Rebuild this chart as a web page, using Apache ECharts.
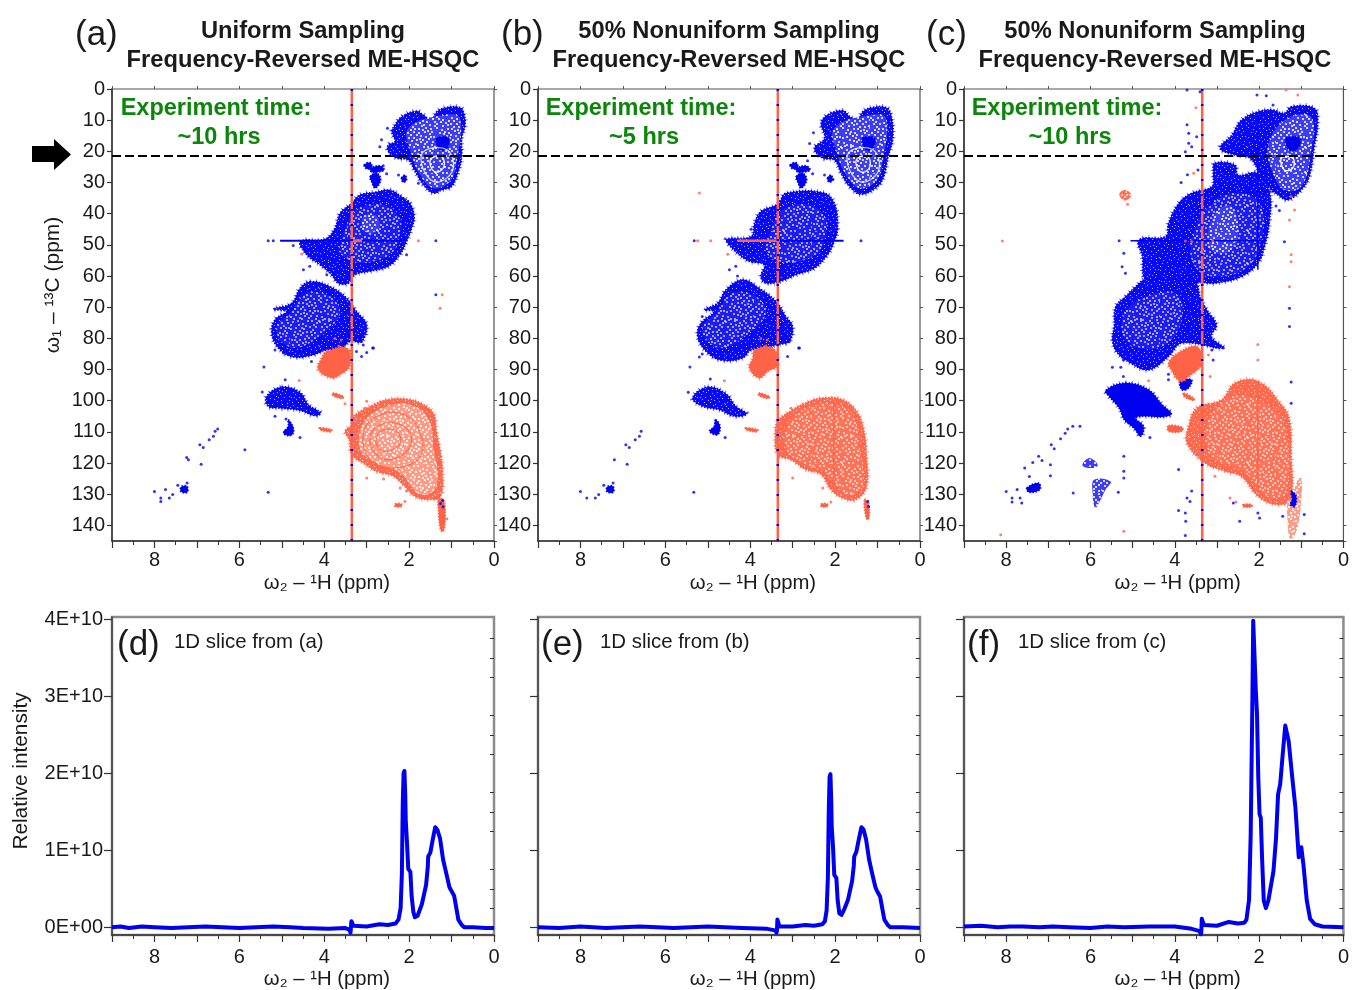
<!DOCTYPE html>
<html>
<head>
<meta charset="utf-8">
<style>html,body{margin:0;padding:0;background:#fff}#c{width:1352px;height:990px}</style>
<script src="https://cdn.jsdelivr.net/npm/echarts@6/dist/echarts.min.js"></script>
</head>
<body>
<div id="c"></div>
<script>
// ---------- 2D spectra outlines, read as [1H ppm, 13C ppm] ----------
const methylA=[[1.47,9.9],[1.35,7.3],[1.15,6],[0.8,5.9],[0.71,7.8],[0.68,11.5],[0.76,15.8],[0.76,21.7],[0.84,26.5],[1,31.3],[1.23,32.4],[1.43,33.4],[1.66,30.8],[1.86,26.5],[2.02,22.8],[2.29,22.2],[2.49,20.1],[2.49,17.9],[2.33,16.9],[2.41,13.7],[2.33,11.5],[2.18,8.9],[1.82,7.05],[1.67,8.3]];
const methylInnerA=[[2.02,12.6],[1.15,8.3],[0.8,9.4],[0.88,23.3],[1.04,29.7],[1.43,31.8],[1.74,27.6],[1.94,21.2]];
const methylSpotA=[[1.35,15.8],[1.07,15.8],[1.11,19],[1.27,19.5]];
const methylRing1A=[[1.47,22.2],[1.23,21.7],[1.18,24.9],[1.35,26.7],[1.49,24.9]];
const methylRing2A=[[1.66,20.1],[1.11,19.5],[0.97,25.9],[1.35,29.9],[1.66,25.9]];
const chA=[[3.35,36.6],[3.16,34],[2.8,33.1],[2.45,32.4],[2.18,34.5],[1.98,36.6],[1.88,40.9],[1.94,44.7],[2.06,48.9],[2.22,53.2],[2.49,56.9],[2.92,58.5],[3.28,59.6],[3.43,62.3],[3.67,62.3],[3.83,59.6],[4.1,56.4],[4.41,53.2],[4.56,48.9],[3.98,48.1],[3.75,44.7],[3.63,39.9]];
const chInnerA=[[3.16,38.2],[2.61,37.2],[2.22,41.4],[2.22,46.8],[2.37,52.1],[2.84,55.3],[3.31,55.3],[3.63,52.1],[3.55,46.8],[3.39,41.4]];
const chCoreA=[[3.08,40.9],[2.8,40.4],[2.69,43.6],[2.84,46.3],[3.08,45.2]];
const sugarA=[[4.34,61.8],[3.86,63.4],[3.47,67.1],[3.24,71.4],[3,75.6],[3.12,81],[3.39,81],[3.63,83.7],[3.94,83.7],[4.26,85.3],[4.73,86],[5.08,83.1],[5.24,78.3],[5.16,74],[4.89,71.4],[5.2,70.6],[4.77,68.7],[4.57,63.9]];
const sugarInnerA=[[4.41,65.5],[3.86,66.6],[3.63,71.9],[4.02,78.3],[4.65,83.1],[5.04,80.4],[5.12,76.2],[4.81,71.9]];
const anomericA=[[5,95.6],[4.57,97.3],[4.37,101.3],[4.08,103.9],[4.22,104.8],[4.57,103.1],[5.04,102.4],[5.32,101.8],[5.36,98.6]];
const smallBlueA=[[4.85,106.1],[4.74,108.2],[4.73,110.4],[4.82,111.2],[4.96,110.4],[4.85,108.2]];
const arom1=[[7.36,127.5],[7.23,127.5],[7.23,129.4],[7.38,129.1]];
const isle1=[[3.06,24.4],[2.92,23.6],[2.88,25.2],[3,25.6]];
const isle2=[[2.92,25.6],[2.69,24.6],[2.59,26],[2.76,26.7],[2.88,26.7]];
const isle3=[[2.92,28.1],[2.76,27],[2.67,29.2],[2.8,31.8],[2.88,29.9]];
const isle4=[[2.18,28.6],[2.1,27.6],[2.06,29.2],[2.14,29.9]];
const orangeBigA=[[3.31,105],[3,102.4],[2.53,99.7],[2.06,99.5],[1.74,100.7],[1.43,104],[1.35,110.4],[1.27,115.7],[1.21,123.2],[1.26,130.7],[1.51,131.7],[1.86,130.7],[2.1,127.5],[2.37,124.2],[2.76,122.7],[3.08,120],[3.35,117.3],[3.41,112.5],[3.51,109.8],[3.35,107.7]];
const orangeInnerA=[[3.08,107.2],[2.53,101.8],[1.98,101.3],[1.55,105.6],[1.43,114.6],[1.35,127.5],[1.74,130.1],[2.21,123.2],[2.76,120],[3.15,115.7]];
const orangeRing1=[[2.92,111.4],[2.68,107.7],[2.29,107.2],[1.98,110.4],[2.02,115.7],[2.45,118.9],[2.8,116.8]];
const orangeRing2=[[3.08,110.4],[2.76,105],[2.21,104],[1.78,108.8],[1.74,117.9],[2.37,121.6],[2.92,118.9]];
const orangeRing3=[[2.76,111.4],[2.57,109.3],[2.29,109.8],[2.21,113.6],[2.49,116.2],[2.72,115.2]];
const orangeTailA=[[1.31,131.7],[1.19,131.7],[1.15,137],[1.19,141.9],[1.26,141.4],[1.31,134.9]];
const orangeSmallA=[[3.94,84.2],[3.47,83.1],[3.39,88.5],[3.63,91.7],[3.82,92.7],[4.14,90],[4.06,86.3]];
const streakUp=[[3.8,97.5],[3.55,98.6],[3.57,99.3],[3.79,98.4]];
const streakLow=[[4.11,108.7],[3.82,109.3],[3.86,110],[4.1,109.3]];
const streakRight=[[2.33,133.1],[2.18,133.1],[2.18,133.9],[2.33,133.9]];

const methylB=[[1.47,9.9],[1.35,7.3],[1.15,6],[0.8,5.9],[0.68,8.3],[0.64,15.8],[0.76,22.2],[0.84,27.6],[1,31.3],[1.39,33.8],[1.66,31.3],[1.86,27],[2.02,22.8],[2.29,22.2],[2.49,19],[2.25,15.8],[2.33,11],[2.18,8.3],[1.82,6.9],[1.65,8.9]];
const chB=[[3.31,36.1],[3.16,33.4],[2.29,33.2],[2.02,36.6],[1.94,44.7],[2.02,48.9],[2.18,53.2],[2.49,57.5],[2.92,59.6],[3.28,61.7],[3.63,62.3],[3.75,60.2],[3.67,56.4],[4.02,55.3],[4.26,53.2],[4.53,49.5],[4.56,48.1],[3.98,47.3],[3.9,43],[3.75,39.3],[3.39,37.2]];
const sugarB=[[4.18,61.2],[3.79,63.9],[3.39,68.2],[3.16,73],[3,76.2],[3.08,81],[3.35,82],[3.63,83.1],[3.98,83.7],[4.18,86.3],[4.65,87.1],[5,84.7],[5.24,79.4],[5.16,75.1],[4.85,71.4],[5.08,70.8],[4.77,68.7],[4.57,64.4]];
const anomericB=[[5,95.6],[4.57,97.8],[4.34,101.8],[4.08,104.2],[4.37,105],[4.73,102.9],[5.12,101.8],[5.36,99.1]];
const smallBlueB=[[4.82,106.1],[4.71,108.2],[4.77,110.9],[4.96,109.8],[4.85,108.2]];
const orangeBigB=[[3.35,106.6],[3,102.9],[2.6,100.2],[2.29,99.1],[1.82,99.7],[1.47,103.9],[1.31,110.4],[1.26,117.8],[1.26,127.5],[1.51,131.7],[1.82,131.2],[2.1,128.5],[2.33,123.7],[2.69,122.1],[3.04,118.9],[3.35,117.3],[3.41,110.4]];
const orangeTailB=[[1.31,131.7],[1.21,132.8],[1.21,138.1],[1.27,137.6]];
const orangeSmallB=[[3.9,83.7],[3.47,83.1],[3.35,88.5],[3.59,90.6],[3.79,92.7],[4.02,89.5],[3.94,86.3]];

const methylC=[[1.4,7.8],[1.24,5.7],[0.69,6.2],[0.61,11],[0.69,18.5],[0.81,28.1],[1,32.4],[1.32,35.6],[1.55,34],[1.79,31.3],[1.99,27],[2.22,22.2],[2.57,21.2],[2.93,19],[2.65,14.8],[2.42,10],[2.03,7.3],[1.67,6.7]];
const methylInnerC=[[1.4,10],[0.77,8.9],[0.77,20.6],[1,31.3],[1.4,32.4],[1.67,27],[1.79,18.5]];
const methylSpotC=[[1.36,15.8],[1.04,15.8],[1.08,19],[1.28,19.6]];
const methylRingC=[[1.47,22.2],[1.2,22.2],[1.2,25.4],[1.4,26]];
const chC=[[3.05,23.8],[2.57,24.4],[2.5,27.6],[2.03,27],[1.75,33.4],[1.75,42],[1.87,50.5],[2.03,55.9],[2.42,60.2],[3.05,62.3],[3.48,62.3],[3.56,64.4],[3.83,63.4],[4.22,62.3],[4.7,61.2],[4.77,53.7],[4.85,48.4],[4.22,47.3],[4.15,43],[3.91,36.7],[3.6,33.4],[3.12,31.3],[3.09,27]];
const chInnerC=[[3.12,36.7],[2.42,33.4],[1.95,37.7],[1.95,48.4],[2.26,57],[3.05,60.2],[3.52,57],[3.6,48.4]];
const chCoreC=[[3.05,39.9],[2.65,37.7],[2.5,47.3],[2.81,52.7],[3.2,50.5]];
const sugarC=[[4.7,61.2],[3.52,62.3],[3.4,66.6],[3.24,70.8],[3.01,75.7],[3.13,79.4],[2.85,83.1],[3.83,81.5],[4.15,85.8],[4.62,90.1],[5.05,87.9],[5.36,84.7],[5.48,80.5],[5.44,76.2],[5.4,69.8],[5.17,66.6],[4.93,63.4]];
const sugarInnerC=[[4.85,67.6],[3.99,65.5],[3.83,74],[4.3,82.6],[5.09,81.5],[5.25,74]];
const anomericC=[[5.17,94.3],[4.62,96.5],[4.3,101.3],[4.08,104.2],[4.3,105.2],[4.7,105],[4.93,105.6],[4.74,108.2],[4.81,111.4],[4.97,108.8],[5.2,106.1],[5.32,102.4],[5.56,98.6],[5.64,96.7]];
const underOrangeC=[[3.87,93.8],[3.6,93.3],[3.68,96],[3.83,96.5]];
const aromC=[[7.51,128],[7.23,126.4],[7.2,128.5],[7.45,129.4]];
const diffuse1C=[[6.19,120.8],[6.03,118.4],[5.83,120.5],[5.95,121.6]];
const diffuse2C=[[5.91,125.3],[5.52,125.9],[5.64,128.5],[5.8,132.8],[5.89,134.4],[5.95,129.6]];
const tailBlueC=[[1.24,129],[1.12,130.7],[1.16,133.9],[1.26,133.3],[1.22,131.7]];
const orangeBigC=[[3.48,102.4],[2.89,99.7],[2.57,94.3],[2.02,93.8],[1.47,101.3],[1.28,106.1],[1.24,116.8],[1.26,131.7],[1.59,133.3],[2.02,130.7],[2.42,124.3],[2.81,122.6],[3.28,120],[3.71,113.6],[3.67,108.2]];
const orangeInnerC=[[3.2,106.1],[2.57,98.6],[1.87,100.8],[1.4,108.2],[1.36,129.6],[1.79,130.7],[2.42,122.1],[3.13,117.9]];
const orangeTailC=[[1.32,131.7],[1.24,131.7],[1.08,125.3],[0.99,124.8],[1,131.7],[1.08,140.3],[1.2,144],[1.28,144],[1.33,137.1]];
const orangeSmallC=[[3.99,85.3],[3.48,82.6],[3.36,88],[3.67,92.2],[3.87,93.8],[4.11,89.5],[4.15,88]];
const streakLowC=[[4.15,108],[3.83,108.5],[3.83,109.8],[4.15,109.8]];
const streakUpC=[[3.79,97.5],[3.55,99.2],[3.55,100],[3.79,98.5]];
const streakRightC=[[2.38,133.3],[2.18,133.3],[2.18,134],[2.38,134]];
const orangeIsleC=[[5.31,33.4],[5.17,32.4],[5.03,34],[5.17,35.8],[5.28,35]];

// ---------- isolated cross peaks ----------
const bluePointsA=[[8,129.1],[7.74,128.5],[7.85,131.2],[7.85,132.3],[7.65,131.2],[7.57,130.1],[7.45,127.1],[7.23,126.4],[6.93,114.1],[6.85,115],[6.9,120.4],[7.2,118.9],[7.24,118.2],[6.71,112.5],[6.61,111.4],[6.57,109.8],[6.51,109.1],[5.87,115.7],[5.32,129.4],[5.42,89.2],[4.92,93.3],[5.46,97.2],[4.57,111.8],[2.84,83.1],[3,84.5],[3.12,81],[3.12,85.8],[3.24,84.2],[3.08,82.1],[5.16,105],[4.9,105.9],[4.92,109.8],[5.16,83.7],[4.96,84.7],[4.3,87.4],[2.86,83.1],[2.51,12.6],[2.65,16.3],[2.69,18.5],[2.61,24.6],[2.53,27.2],[2.25,27.6],[1.78,30.2],[5.32,48.7],[5.2,48.7],[4.73,50.2],[4.34,56.9],[4.49,58],[3.94,59.6],[2.06,53.2],[1.37,48.7],[1.37,66],[1.26,133],[1.21,132],[1.2,134]];
const orangePointsA=[[4.59,93.5],[2.21,128],[2.06,129],[2.25,133.5],[2.1,132.3],[3,124.8],[2.6,125.1],[3,100.2],[3.04,102.4],[3.51,101],[1.11,137.9],[1.27,70.3],[1.22,66],[1.78,48.7],[4.53,52.9],[3.75,80],[3.6,80.5],[3.65,82.5],[3.4,84]];
const bluePointsB=[[8,129.1],[7.85,131.2],[7.65,131.2],[7.57,130.1],[7.45,127.1],[7.23,126.4],[6.93,114.1],[6.85,115],[6.9,120.4],[7.2,118.9],[6.71,112.5],[6.61,111.4],[6.57,109.8],[5.33,129.4],[5.42,89.2],[4.94,93],[5.46,97.3],[4.59,111.8],[5.32,48.7],[1.39,48.7],[1.23,132.3],[1.21,133.9],[2.84,83.1],[3.08,81],[3.12,85.8],[2.86,83.1],[5.13,73],[5.13,85],[2.51,14],[2.6,17.5],[2.65,23],[2.53,27.2],[2.25,27.6],[2.05,29],[3.66,42],[3.98,45],[4.34,56.9],[4.49,58],[4.3,60],[5.2,80.5],[5.2,86]];
const orangePointsB=[[4.61,93.6],[3,124.8],[2.29,128],[2.1,132.5],[3.04,102.4],[5.24,48.7],[4.93,48.7],[4.53,53],[5.2,33.4],[3.75,80],[3.6,80.5],[3.65,82.5]];
const bluePointsC=[[8,129.1],[7.86,131.2],[7.86,132.5],[7.74,128.5],[7.67,131.2],[7.63,132.8],[7.56,121.6],[7.45,124.3],[7.37,119.8],[7.23,117.8],[7.15,119.2],[6.95,120.5],[6.95,124.1],[6.93,114.1],[6.86,115.4],[6.71,112.2],[6.6,110.4],[6.54,109.1],[6.42,108.2],[6.25,108.2],[6.41,129.6],[5.34,129.4],[5.21,117.8],[5.21,122.6],[5.21,124.8],[3.91,122.1],[3.6,129],[3.71,131.2],[3.64,132.3],[3.91,135.2],[3.75,136],[3.74,138.7],[3.75,143.2],[2.61,132.8],[2.46,138.7],[2.03,136],[1.99,137.6],[1.44,137.1],[0.93,136.5],[0.93,142.7],[1.24,94],[1.24,100.8],[4.59,111.8],[4.15,93.3],[4.15,91.5],[5.48,89.3],[5.28,89.3],[5.22,86.9],[5.22,92.2],[3.12,83.7],[2.97,82],[2.85,83.1],[3.09,86.9],[3.71,11.5],[3.67,14.2],[3.67,17.4],[3.75,20.1],[3.6,18.5],[3.48,15.3],[3.71,0.3],[3.4,0.9],[1.83,2.2],[2.05,1.9],[1.67,5.1],[5.32,48.7],[5.21,52.7],[5.25,57],[5.17,59.1],[1.4,49],[1.28,70.3],[1.28,76.2],[3.85,30],[3.7,27.5],[3.45,26],[1.6,37.5],[1.52,39]];
const orangePointsC=[[8.13,143],[5.21,141.9],[3.05,124.2],[2.69,131.2],[2.55,132.5],[4.62,93.6],[3.16,92.2],[2.03,86.9],[2.03,82],[3.2,85.3],[1.24,34.5],[1.16,38.8],[1.28,42],[1.24,53.2],[1.24,55.4],[1.28,63.4],[1.36,0.3],[1.08,1.9],[8.09,48.8],[3.5,6],[3.55,27],[3.75,48.8],[3.6,48.9],[3.1,48.8],[5.2,33],[5.12,37]];

// ---------- line features in the 2D spectra ----------
const waterRidge=[[3.35,0],[3.35,145]];
const sliceLine=[[9,21.5],[0,21.5]];
const hStreakBlueA=[[5.04,48.7],[2.1,48.7]];
const hStreakOrangeA=[[3.35,48.7],[3.11,48.7]];
const hStreakBlueB=[[3.3,48.7],[1.8,48.7]];
const hStreakOrangeB=[[4.3,48.7],[3.3,48.7]];
const hStreakBlueC=[[5.05,48.7],[1.9,48.7]];
const vStreakBlueC=[[2.03,8],[2.03,58]];
const vStreakOrangeC=[[2.03,94],[2.03,128]];
const vStreakOrangeB=[[2.03,100],[2.03,128]];
const hStreakCH3C=[[1.65,33],[2.4,33]];

// ---------- 1D slices: [1H ppm, intensity in units of 1E+10] ----------
const sliceD=[[9,0],[8.8,0.01],[8.6,-0.01],[8.3,0.01],[8,0],[7.6,-0.01],[7.2,0],[6.8,0.01],[6.4,0],[6,-0.01],[5.6,0],[5.2,0.01],[4.8,0],[4.5,-0.01],[3.9,-0.02],[3.5,-0.01],[3.41,-0.03],[3.38,-0.07],[3.37,-0.05],[3.36,0.08],[3.34,0.07],[3.31,0.02],[3,0.01],[2.7,0.04],[2.5,0.03],[2.32,0.05],[2.25,0.1],[2.2,0.25],[2.17,0.7],[2.15,1.6],[2.13,2.0],[2.11,2.03],[2.09,1.7],[2.08,1.4],[2.05,1.1],[2.02,0.76],[1.97,0.72],[1.94,0.4],[1.9,0.2],[1.865,0.13],[1.8,0.15],[1.7,0.3],[1.6,0.55],[1.56,0.78],[1.55,0.92],[1.5,0.97],[1.45,1.12],[1.385,1.3],[1.33,1.26],[1.27,1.15],[1.2,0.88],[1.12,0.69],[1.05,0.52],[1.02,0.5],[0.98,0.45],[0.94,0.41],[0.89,0.26],[0.84,0.1],[0.76,0.03],[0.7,0],[0.5,0],[0.2,-0.01],[0,-0.01]];
const sliceE=[[9,0],[8.5,-0.01],[8,0.01],[7.7,0],[7.4,-0.01],[7,0],[6.6,0.01],[6.2,0],[5.8,-0.01],[5.4,0],[5,0.01],[4.6,0],[4.2,-0.01],[3.6,-0.02],[3.41,-0.04],[3.38,-0.07],[3.37,-0.04],[3.36,0.1],[3.34,0.1],[3.31,0.01],[3,0.01],[2.7,0.03],[2.5,0.02],[2.3,0.04],[2.24,0.08],[2.2,0.22],[2.17,0.65],[2.15,1.5],[2.13,1.95],[2.11,1.99],[2.09,1.62],[2.08,1.3],[2.05,1.05],[2.02,0.68],[1.97,0.64],[1.94,0.35],[1.9,0.18],[1.85,0.16],[1.78,0.24],[1.7,0.35],[1.6,0.6],[1.56,0.8],[1.55,0.92],[1.5,0.98],[1.45,1.12],[1.38,1.3],[1.33,1.27],[1.27,1.14],[1.2,0.88],[1.12,0.68],[1.05,0.52],[1.02,0.48],[0.98,0.44],[0.94,0.4],[0.89,0.25],[0.84,0.1],[0.76,0.03],[0.7,0],[0.4,0],[0,-0.01]];
const sliceF=[[9,0.01],[8.6,0.02],[8.2,0],[7.9,0.01],[7.6,0.01],[7.2,0],[6.9,0.01],[6.5,0],[6,-0.01],[5.6,0.01],[5.2,0],[4.6,0.01],[4,0.01],[3.6,-0.02],[3.41,-0.05],[3.38,-0.09],[3.37,-0.05],[3.36,0.11],[3.33,0.1],[3.31,0.03],[3,0.02],[2.72,0.07],[2.5,0.05],[2.35,0.06],[2.3,0.1],[2.24,0.35],[2.2,1.2],[2.16,2.94],[2.14,3.98],[2.11,3.98],[2.08,3.1],[2.05,2.77],[2.02,1.95],[1.99,1.47],[1.96,1.42],[1.93,0.9],[1.89,0.35],[1.84,0.25],[1.78,0.35],[1.66,0.73],[1.6,1.15],[1.55,1.73],[1.5,1.86],[1.44,2.25],[1.38,2.62],[1.3,2.42],[1.22,1.98],[1.14,1.56],[1.06,0.91],[1,1.04],[0.95,0.82],[0.87,0.35],[0.79,0.11],[0.68,0.04],[0.5,0.01],[0,0]];

// ---------- axes ----------
const xTicks=[0,1,2,3,4,5,6,7,8,9];
const yTicks2D=[0,10,20,30,40,50,60,70,80,90,100,110,120,130,140];
const yMajor1D=[0,1,2,3,4];
const yMinor1D=[0.25,0.5,0.75,1.25,1.5,1.75,2.25,2.5,2.75,3.25,3.5,3.75];
const xName='ω₂ – ¹H (ppm)';

const FONT='"Liberation Sans", Arial, sans-serif';
const BLUE='#0000f0', ORANGE='#ff6347', TXT='#1a1a1a';

// pattern tiles that imitate the contour speckle of the peaks
const specksA=[[2,3],[11,1],[20,5],[26,2],[6,10],[15,9],[24,12],[1,16],[10,18],[18,15],[27,20],[5,24],[14,25],[22,22],[9,27]];
const specksB=[[7,1],[16,4],[23,8],[3,7],[12,12],[19,11],[28,9],[7,15],[14,19],[23,17],[2,21],[10,23],[18,27],[26,25],[4,13],[21,1],[13,6],[25,15]];
const specksC=[[0,1],[5,5],[9,7],[17,8],[21,14],[28,5],[8,12],[16,13],[12,16],[4,18],[19,20],[24,20],[7,21],[13,22],[0,26],[16,23],[20,25],[3,28],[25,28],[11,28]];
function tile(fg,lists,size,alpha){
  const c=document.createElement('canvas');c.width=58;c.height=58;
  const x=c.getContext('2d');x.fillStyle=fg;x.fillRect(0,0,58,58);
  x.fillStyle='rgba(255,255,255,'+alpha+')';
  lists.forEach(l=>l.forEach(p=>{
    x.fillRect(p[0],p[1],size,size);
    x.fillRect(29+p[1],p[0],size,size);
    x.fillRect(28-p[0],29+p[1],size,size);
    x.fillRect(29+p[0],57-p[1],size,size);
  }));
  return {image:c,repeat:'repeat'};
}
const T={
  bDense:tile('#0a0af2',[specksA,specksB,specksC],1,0.7),
  bMid:tile('#1c1cf3',[specksA,specksB,specksC],2,0.6),
  bLight:tile('#3d3df5',[specksA,specksB,specksC],2,0.8),
  oDense:tile('#ff6a4f',[specksA,specksB,specksC],1,0.75),
  oMid:tile('#ff7459',[specksA,specksB,specksC],2,0.6),
  oLight:tile('#ff9a84',[specksA,specksB,specksC],2,0.85)
};

const grids=[],xAxes=[],yAxes=[],series=[];
function addGrid(left,top,w,h,border){
  grids.push({left:left,top:top,width:w,height:h,show:true,backgroundColor:'transparent',borderColor:border.c,borderWidth:border.w});
  return grids.length-1;
}
const tickLabel={color:TXT,fontSize:20,fontFamily:FONT};
function xAxisOf(g,margin,gap){
  xAxes.push({gridIndex:g,type:'value',min:0,max:9,interval:1,inverse:true,position:'bottom',
    axisLine:{show:true,onZero:false,lineStyle:{color:'#333',width:1.5}},
    axisTick:{show:true,length:7,lineStyle:{color:'#333',width:1.2}},
    minorTick:{show:true,splitNumber:2,length:4,lineStyle:{color:'#333',width:1}},
    splitLine:{show:false},minorSplitLine:{show:false},
    axisLabel:Object.assign({},tickLabel,{margin:margin,showMinLabel:true,showMaxLabel:true,hideOverlap:false,
      formatter:v=>(v%2===0?String(v):'')}),
    name:xName,nameLocation:'middle',nameGap:gap,
    nameTextStyle:{color:TXT,fontSize:20.3,fontFamily:FONT,padding:[0,0,0,48]}});
  return xAxes.length-1;
}
function mirrorX(g){
  xAxes.push({gridIndex:g,type:'value',min:0,max:9,interval:1,inverse:true,position:'top',
    axisLine:{show:false},axisTick:{show:true,length:3,lineStyle:{color:'#555',width:1}},
    axisLabel:{show:false},splitLine:{show:false}});
}
function panel2D(left,labels){
  const g=addGrid(left,89,382,452,{c:'#555',w:1.2});
  const xi=xAxisOf(g,9,32);mirrorX(g);
  yAxes.push({gridIndex:g,type:'value',min:0,max:145,interval:10,inverse:true,position:'left',
    axisLine:{show:true,onZero:false,lineStyle:{color:'#333',width:1.5}},
    axisTick:{show:true,length:5,lineStyle:{color:'#333',width:1.2}},
    splitLine:{show:false},
    axisLabel:Object.assign({},tickLabel,{margin:7,showMaxLabel:false,padding:[2,0,0,0],
      formatter:v=>(yTicks2D.includes(v)?String(v):'')}),
    name:labels?'ω₁ – ¹³C (ppm)':'',nameLocation:'middle',nameGap:48,
    nameTextStyle:{color:TXT,fontSize:21,fontFamily:FONT,padding:[0,0,0,60]}});
  const yi=yAxes.length-1;
  yAxes.push({gridIndex:g,type:'value',min:0,max:145,interval:10,inverse:true,position:'right',
    axisLine:{show:false},axisTick:{show:true,length:3,lineStyle:{color:'#555',width:1}},
    axisLabel:{show:false},splitLine:{show:false}});
  return {xi:xi,yi:yi};
}
function panel1D(left,labels,data){
  const g=addGrid(left,617,382,318,{c:'#8c8c8c',w:2.5});
  const xi=xAxisOf(g,12,34);
  yAxes.push({gridIndex:g,type:'value',min:-0.1,max:4.03,position:'left',
    axisLine:{show:true,onZero:false,lineStyle:{color:'#444',width:1.5}},
    axisTick:{show:true,length:8,customValues:yMajor1D,lineStyle:{color:'#333',width:1.2}},
    splitLine:{show:false},
    axisLabel:labels?Object.assign({},tickLabel,{margin:9,customValues:yMajor1D,padding:[1,0,0,0],
      formatter:v=>v+'E+'+(v===0?'00':'10')}):{show:false},
    name:labels?'Relative intensity':'',nameLocation:'middle',nameGap:80,
    nameTextStyle:{color:TXT,fontSize:20.8,fontFamily:FONT,padding:[0,0,0,10]}});
  const yi=yAxes.length-1;
  yAxes.push({gridIndex:g,type:'value',min:-0.1,max:4.03,position:'left',
    axisLine:{show:false},
    axisTick:{show:true,length:4,customValues:yMinor1D,lineStyle:{color:'#333',width:1}},
    axisLabel:{show:false},splitLine:{show:false}});
  series.push({type:'line',xAxisIndex:xi,yAxisIndex:yi,data:data,showSymbol:false,smooth:false,
    lineStyle:{color:BLUE,width:4,join:'round'},silent:true,clip:true});
}

// rim: 0 none, 1 small fuzzy edge, 2 wide fuzzy edge
function poly(ax,points,fill,opts){
  opts=opts||{};
  const edge=opts.edge||BLUE, rim=opts.rim||0, smooth=opts.smooth===undefined?0.4:opts.smooth;
  series.push({type:'custom',xAxisIndex:ax.xi,yAxisIndex:ax.yi,silent:true,clip:true,
    coordinateSystem:'cartesian2d',data:[points[0]],encode:{x:0,y:1},
    renderItem:(params,api)=>{
      const pts=points.map(p=>api.coord(p));
      const kids=[];
      if(rim>=2)kids.push({type:'polygon',shape:{points:pts,smooth:smooth},
        style:{fill:'none',stroke:edge,lineWidth:5,lineDash:[1,5],opacity:0.55}});
      const st={fill:fill||'none'};
      if(rim>=1)Object.assign(st,{stroke:edge,lineWidth:1.6,lineDash:[1.5,1.5]});
      if(opts.line)Object.assign(st,{stroke:opts.line.c,lineWidth:opts.line.w,opacity:opts.line.o||1});
      kids.push({type:'polygon',shape:{points:pts,smooth:smooth},style:st});
      return {type:'group',children:kids};
    }});
}
function line(ax,data,color,width,dash,z){
  series.push({type:'line',xAxisIndex:ax.xi,yAxisIndex:ax.yi,data:data,showSymbol:false,silent:true,z:z||3,
    lineStyle:{color:color,width:width,type:dash||'solid',cap:'butt'}});
}
function dots(ax,data,color,size){
  series.push({type:'scatter',xAxisIndex:ax.xi,yAxisIndex:ax.yi,data:data,symbolSize:size,silent:true,z:4,
    itemStyle:{color:color}});
}
const blueRim={rim:2}, orangeRim={rim:2,edge:ORANGE};
const blueSmall={rim:1}, orangeSmall={rim:1,edge:ORANGE};

// panel (a)
const A=panel2D(112,true);
poly(A,methylA,T.bDense,blueRim);poly(A,methylInnerA,T.bLight);poly(A,methylSpotA,BLUE,blueSmall);
poly(A,methylRing2A,null,{line:{c:'#fff',w:1.2,o:0.8}});poly(A,methylRing1A,null,{line:{c:'#fff',w:1.4,o:0.9}});
poly(A,chA,T.bDense,blueRim);poly(A,chInnerA,T.bMid);poly(A,chCoreA,T.bLight);
poly(A,sugarA,T.bDense,blueRim);poly(A,sugarInnerA,T.bMid);
poly(A,anomericA,T.bDense,blueRim);
[smallBlueA,arom1,isle1,isle2,isle3,isle4].forEach(p=>poly(A,p,BLUE,blueSmall));
poly(A,orangeBigA,T.oDense,orangeRim);poly(A,orangeInnerA,T.oLight);
[orangeRing1,orangeRing2,orangeRing3].forEach(p=>poly(A,p,null,{line:{c:ORANGE,w:1.1,o:0.85}}));
poly(A,orangeSmallA,ORANGE,orangeRim);
[orangeTailA,streakUp,streakLow,streakRight].forEach(p=>poly(A,p,ORANGE,orangeSmall));
line(A,hStreakBlueA,BLUE,2);line(A,hStreakOrangeA,ORANGE,3);
line(A,waterRidge,ORANGE,2.5);line(A,waterRidge,BLUE,2.5,[2,13]);
dots(A,bluePointsA,BLUE,3);dots(A,orangePointsA,ORANGE,3);
line(A,sliceLine,'#000',2,[9,4],6);

// panel (b)
const B=panel2D(538,false);
poly(B,methylB,T.bDense,blueRim);poly(B,methylInnerA,T.bLight);poly(B,methylSpotA,BLUE,blueSmall);
poly(B,methylRing2A,null,{line:{c:'#fff',w:1.2,o:0.8}});poly(B,methylRing1A,null,{line:{c:'#fff',w:1.4,o:0.9}});
poly(B,chB,T.bDense,blueRim);poly(B,chInnerA,T.bMid);
poly(B,sugarB,T.bDense,blueRim);poly(B,sugarInnerA,T.bMid);
poly(B,anomericB,T.bDense,blueRim);
[smallBlueB,arom1,isle1,isle2,isle3,isle4].forEach(p=>poly(B,p,BLUE,blueSmall));
poly(B,orangeBigB,T.oDense,orangeRim);poly(B,orangeInnerA,T.oMid);
poly(B,orangeSmallB,ORANGE,orangeRim);
[orangeTailB,streakUp,streakLow,streakRight].forEach(p=>poly(B,p,ORANGE,orangeSmall));
line(B,vStreakOrangeB,ORANGE,1.5);
line(B,hStreakBlueB,BLUE,2);line(B,hStreakOrangeB,ORANGE,2.5);
line(B,waterRidge,ORANGE,2.5);line(B,waterRidge,BLUE,2.5,[2,13]);
dots(B,bluePointsB,BLUE,3);dots(B,orangePointsB,ORANGE,3);
line(B,sliceLine,'#000',2,[9,4],6);

// panel (c)
const C=panel2D(964,false);
poly(C,methylC,T.bDense,blueRim);poly(C,methylInnerC,T.bLight);poly(C,methylSpotC,BLUE,blueSmall);
poly(C,methylRingC,null,{line:{c:'#fff',w:1.4,o:0.9}});
poly(C,chC,T.bDense,blueRim);poly(C,chInnerC,T.bMid);poly(C,chCoreC,T.bLight);
poly(C,sugarC,T.bDense,blueRim);poly(C,sugarInnerC,T.bMid);
poly(C,anomericC,BLUE,blueRim);
[underOrangeC,aromC].forEach(p=>poly(C,p,BLUE,blueSmall));
poly(C,diffuse1C,T.bLight);poly(C,diffuse2C,T.bLight);
poly(C,orangeBigC,T.oDense,orangeRim);poly(C,orangeInnerC,T.oMid);poly(C,orangeTailC,T.oLight);
poly(C,orangeSmallC,ORANGE,orangeRim);
[streakLowC,streakUpC,streakRightC].forEach(p=>poly(C,p,ORANGE,orangeSmall));
poly(C,orangeIsleC,T.oMid);
poly(C,tailBlueC,BLUE,blueSmall);
line(C,vStreakBlueC,BLUE,1.5);line(C,vStreakOrangeC,ORANGE,1.5);
line(C,hStreakBlueC,BLUE,1.5);line(C,hStreakCH3C,BLUE,1.2);
line(C,waterRidge,ORANGE,2.5);line(C,waterRidge,BLUE,2.5,[2,13]);
dots(C,bluePointsC,BLUE,3);dots(C,orangePointsC,ORANGE,3);
line(C,sliceLine,'#000',2,[9,4],6);

// panels (d) (e) (f)
panel1D(112,true,sliceD);
panel1D(538,false,sliceE);
panel1D(964,false,sliceF);

function text(x,y,s,size,opts){
  return {type:'text',x:x,y:y,z:20,silent:true,
    style:Object.assign({text:s,fontSize:size,fontFamily:FONT,fill:TXT,textAlign:'left',textVerticalAlign:'middle'},opts||{})};
}
const bold={fontWeight:'bold',textAlign:'center'};
const green=Object.assign({},bold,{fill:'#0b860b'});
const graphics=[
  text(75,35,'(a)',35),text(501,35,'(b)',35),text(926,35,'(c)',35),
  text(303,31,'Uniform Sampling',23.7,bold),text(303,60,'Frequency-Reversed ME-HSQC',23.7,bold),
  text(729,31,'50% Nonuniform Sampling',23.7,bold),text(729,60,'Frequency-Reversed ME-HSQC',23.7,bold),
  text(1155,31,'50% Nonuniform Sampling',23.7,bold),text(1155,60,'Frequency-Reversed ME-HSQC',23.7,bold),
  text(216,109,'Experiment time:',23.5,green),text(219,138,'~10 hrs',23.5,green),
  text(641,109,'Experiment time:',23.5,green),text(644,138,'~5 hrs',23.5,green),
  text(1067,109,'Experiment time:',23.5,green),text(1070,138,'~10 hrs',23.5,green),
  text(117,645,'(d)',35),text(541,645,'(e)',35),text(967,645,'(f)',35),
  text(174,642,'1D slice from (a)',20.4),text(600,642,'1D slice from (b)',20.4),text(1018,642,'1D slice from (c)',20.4),
  {type:'polygon',z:20,silent:true,shape:{points:[[32,146],[54,146],[54,139],[71,154.5],[54,170],[54,162],[32,162]]},style:{fill:'#000'}}
];

const chart=echarts.init(document.getElementById('c'),null,{renderer:'canvas'});
chart.setOption({animation:false,backgroundColor:'#fff',grid:grids,xAxis:xAxes,yAxis:yAxes,series:series,graphic:graphics});
</script>
</body>
</html>
